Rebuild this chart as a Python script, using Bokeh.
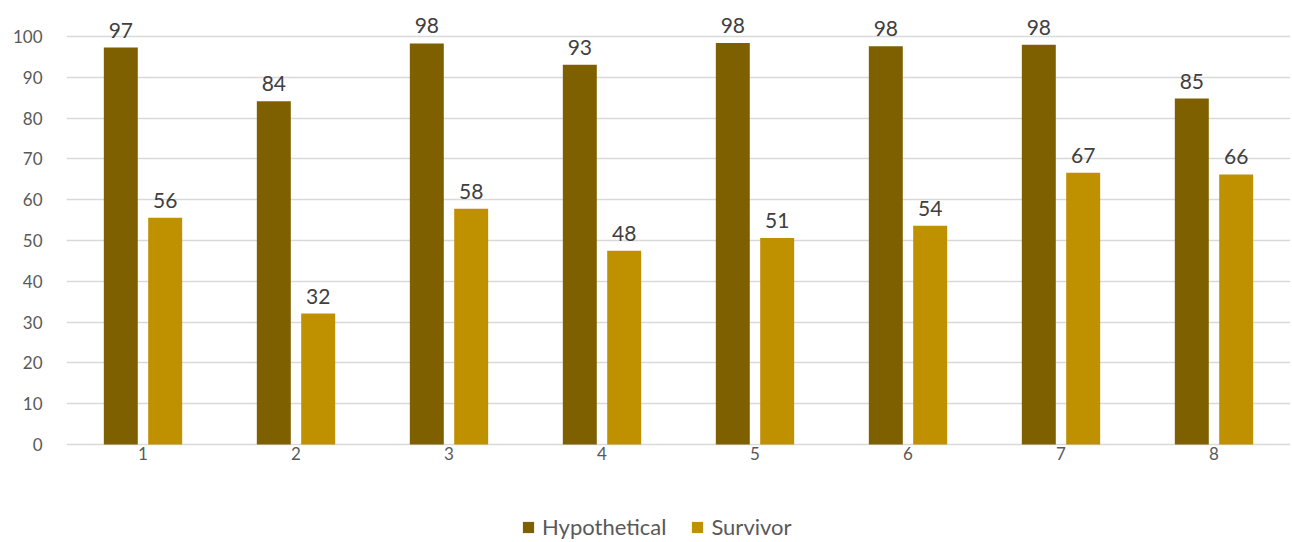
from bokeh.plotting import figure
from bokeh.models import (ColumnDataSource, Range1d, FixedTicker, Legend, LegendItem,
                          LabelSet)
from bokeh.core.properties import value
from bokeh.embed import file_html
from bokeh.resources import INLINE

categories = [1, 2, 3, 4, 5, 6, 7, 8]
hypothetical = [97.3, 84.1, 98.3, 93.1, 98.4, 97.6, 98.0, 84.8]
survivor = [55.6, 32.1, 57.8, 47.5, 50.6, 53.6, 66.6, 66.2]
y_ticks = [0, 10, 20, 30, 40, 50, 60, 70, 80, 90, 100]

HYP_COLOR = "#7f6000"
SURV_COLOR = "#bf9000"
FONT = "Lato"
TXT = "#595959"

off = 0.145
bw = 0.222

src_h = ColumnDataSource(dict(x=[c - off for c in categories], top=hypothetical,
                              lab=[f"{v:.0f}" for v in hypothetical]))
src_s = ColumnDataSource(dict(x=[c + off for c in categories], top=survivor,
                              lab=[f"{v:.0f}" for v in survivor]))
src_x = ColumnDataSource(dict(x=categories, y=[0] * len(categories),
                              lab=[str(c) for c in categories]))

p = figure(width=1292, height=542, output_backend="svg", toolbar_location=None,
           x_range=Range1d(0.5, 8.5), y_range=Range1d(-24.02, 106.37),
           min_border_left=66, min_border_right=2, min_border_top=10, min_border_bottom=0)
p.outline_line_color = None
p.background_fill_color = "white"
p.border_fill_color = "white"

r_h = p.vbar(x="x", top="top", width=bw, source=src_h, color=HYP_COLOR, line_color=None)
r_s = p.vbar(x="x", top="top", width=bw, source=src_s, color=SURV_COLOR, line_color=None)

for src in (src_h, src_s):
    ls = LabelSet(x="x", y="top", text="lab", source=src, text_align="center",
                  text_baseline="bottom", y_offset=10, text_font=value(FONT),
                  text_font_size="21px", text_color="#404040")
    p.add_layout(ls)

# category labels under the baseline
p.add_layout(LabelSet(x="x", y="y", text="lab", source=src_x, text_align="center",
                      text_baseline="top", y_offset=-3, text_font=value(FONT),
                      text_font_size="17px", text_color=TXT))

p.xaxis.visible = False
p.yaxis.ticker = FixedTicker(ticks=y_ticks)
p.xgrid.grid_line_color = None
p.ygrid.grid_line_color = "#d9d9d9"
p.ygrid.grid_line_width = 1.5
ax = p.yaxis
ax.axis_line_color = None
ax.major_tick_line_color = None
ax.minor_tick_line_color = None
ax.major_label_text_font = FONT
ax.major_label_text_font_size = "17px"
ax.major_label_text_color = TXT
ax.major_label_standoff = 18

legend = Legend(items=[LegendItem(label="Hypothetical", renderers=[r_h]),
                       LegendItem(label="Survivor", renderers=[r_s])],
                orientation="horizontal", location=(455, 2),
                glyph_width=14, glyph_height=14, label_standoff=7, spacing=24,
                padding=0, margin=0, border_line_color=None,
                background_fill_alpha=0,
                label_text_font=FONT, label_text_font_size="22px", label_text_color=TXT)
p.add_layout(legend, "center")

open("out.html", "w").write(file_html(p, INLINE))
